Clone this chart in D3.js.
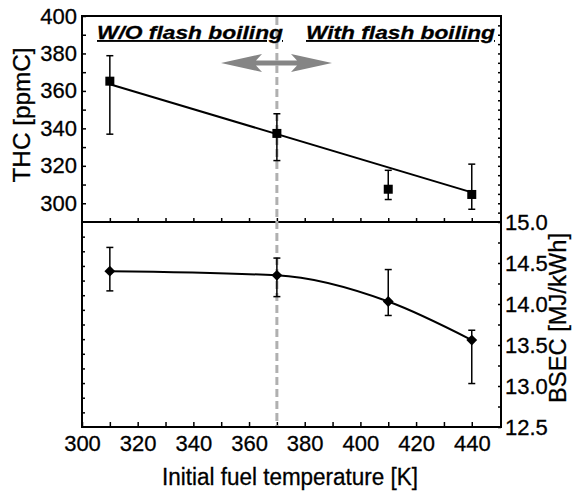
<!DOCTYPE html>
<html>
<head>
<meta charset="utf-8">
<script src="https://cdn.jsdelivr.net/npm/d3@7"></script>
<style>
  body { margin: 0; background: #fff; }
  svg text { font-family: "Liberation Sans", Arial, sans-serif; fill: #000; stroke: #000; stroke-width: 0.3px; }
</style>
</head>
<body>
<div id="chart"></div>
<script>
// temperatures [K]
const temps = [310, 370, 410, 440];
// THC [ppmC], mean and error bar limits
const thc = [365.2, 337.3, 307.5, 304.7];
const thcHi = [378.8, 347.8, 317.6, 320.9];
const thcLo = [336.9, 322.8, 302.0, 296.8];
// linear fit drawn through THC
const fitTemps = [310, 440];
const fitThc = [363.6, 305.8];
// BSEC [MJ/kWh]
const bsec = [14.40, 14.35, 14.03, 13.56];
const bsecHi = [14.69, 14.56, 14.42, 13.68];
const bsecLo = [14.16, 14.09, 13.86, 13.03];

const xTicks = [300, 320, 340, 360, 380, 400, 420, 440];
const thcTicks = [300, 320, 340, 360, 380, 400];
const bsecTicks = [12.5, 13.0, 13.5, 14.0, 14.5, 15.0];
const boundary = 370;

const W = 573, H = 491;
const left = 82, right = 501;
const top1 = 16, mid = 222, bot2 = 427;

const svg = d3.select('#chart').append('svg')
  .attr('width', W)
  .attr('height', H);

const x = d3.scaleLinear().domain([300, 450.5]).range([left, right]);
const yT = d3.scaleLinear().domain([290, 400]).range([mid, top1]);
const yB = d3.scaleLinear().domain([12.5, 15.0]).range([bot2, mid]);
const yL = d3.scaleLinear().domain([0, 14]).range([bot2, mid]);

function tidy(g) {
  g.select('.domain').remove();
  g.selectAll('.tick line').attr('stroke', '#000').attr('stroke-width', 1.5);
  g.selectAll('.tick text').style('font-size', '22px');
}

// top panel axes
svg.append('g').attr('transform', `translate(${left},0)`)
  .call(d3.axisLeft(yT).tickValues(d3.range(300, 401, 10)).tickSizeInner(-4).tickSizeOuter(0).tickPadding(5)
    .tickFormat(d => thcTicks.includes(d) ? d : ''))
  .call(tidy);
svg.append('g').attr('transform', `translate(${right},0)`)
  .call(d3.axisRight(yT).tickValues(d3.range(295, 400, 5)).tickSizeInner(-3).tickSizeOuter(0).tickFormat(''))
  .call(tidy);
svg.append('g').attr('transform', `translate(0,${mid})`)
  .call(d3.axisBottom(x).tickValues(d3.range(310, 450, 10)).tickSizeInner(-4).tickSizeOuter(0).tickFormat(''))
  .call(tidy);

// bottom panel axes
svg.append('g').attr('transform', `translate(${left},0)`)
  .call(d3.axisLeft(yL).tickValues(d3.range(1, 14)).tickSizeInner(-3).tickSizeOuter(0).tickFormat(''))
  .call(tidy);
svg.append('g').attr('transform', `translate(${right},0)`)
  .call(d3.axisRight(yB).tickValues(d3.range(12.5, 15.01, 0.25)).tickSizeInner(-3).tickSizeOuter(0).tickPadding(4)
    .tickFormat(d => bsecTicks.some(t => Math.abs(t - d) < 1e-6) ? d3.format('.1f')(d) : ''))
  .call(tidy);
svg.append('g').attr('transform', `translate(0,${bot2})`)
  .call(d3.axisBottom(x).tickValues(d3.range(300, 450, 10)).tickSizeInner(-5).tickSizeOuter(0).tickPadding(8)
    .tickFormat(d => xTicks.includes(d) ? d : ''))
  .call(tidy);

// frame
const frame = [
  [[left, top1], [right, top1]],
  [[left, top1], [left, bot2]],
  [[right, top1], [right, bot2]],
  [[left, mid], [right, mid]],
  [[left, bot2], [right, bot2]]
];
svg.append('g').selectAll('line').data(frame).join('line')
  .attr('x1', d => d[0][0]).attr('y1', d => d[0][1])
  .attr('x2', d => d[1][0]).attr('y2', d => d[1][1])
  .attr('stroke', '#000').attr('stroke-width', 2).attr('stroke-linecap', 'square');

// gray double arrow
const ay = 63, ax0 = 221, ax1 = 332, head = 41;
const arrow = [
  [ax0, ay], [ax0 + head, ay - 9], [ax0 + head - 6, ay - 2.5], [ax1 - head + 6, ay - 2.5], [ax1 - head, ay - 9],
  [ax1, ay], [ax1 - head, ay + 9], [ax1 - head + 6, ay + 2.5], [ax0 + head - 6, ay + 2.5], [ax0 + head, ay + 9]
];
svg.append('path').attr('d', d3.line()(arrow) + 'Z').attr('fill', '#858585');

// dashed boundary
svg.append('line')
  .attr('x1', x(boundary)).attr('x2', x(boundary))
  .attr('y1', top1 + 1).attr('y2', bot2 - 1)
  .attr('stroke', '#b0b0b0').attr('stroke-width', 3).attr('stroke-dasharray', '8,4');

// region labels
const lab = svg.append('g').style('font-size', '19px').style('font-weight', 'bold').style('font-style', 'italic')
  .style('text-decoration', 'underline');
lab.append('text').attr('x', 97).attr('y', 39).attr('textLength', 186).attr('lengthAdjust', 'spacingAndGlyphs')
  .text('W/O flash boiling');
lab.append('text').attr('x', 306).attr('y', 39).attr('textLength', 189).attr('lengthAdjust', 'spacingAndGlyphs')
  .text('With flash boiling');

// THC fit line
svg.append('path')
  .attr('d', d3.line().x(d => x(d[0])).y(d => yT(d[1]))(d3.zip(fitTemps, fitThc)))
  .attr('fill', 'none').attr('stroke', '#000').attr('stroke-width', 2);

// error bars
function errorBars(ys, lo, hi) {
  const g = svg.append('g').attr('stroke', '#000').attr('stroke-width', 1.5);
  temps.forEach((t, i) => {
    g.append('line').attr('x1', x(t)).attr('x2', x(t)).attr('y1', ys(lo[i])).attr('y2', ys(hi[i]));
    [lo[i], hi[i]].forEach(v => {
      g.append('line').attr('x1', x(t) - 3.5).attr('x2', x(t) + 3.5).attr('y1', ys(v)).attr('y2', ys(v));
    });
  });
}
errorBars(yT, thcLo, thcHi);
errorBars(yB, bsecLo, bsecHi);

// THC squares
svg.append('g').selectAll('rect').data(temps).join('rect')
  .attr('x', d => x(d) - 4.5).attr('y', (d, i) => yT(thc[i]) - 4.5)
  .attr('width', 9).attr('height', 9).attr('fill', '#000');

// BSEC curve and diamonds
svg.append('path')
  .attr('d', d3.line().curve(d3.curveMonotoneX).x(d => x(d[0])).y(d => yB(d[1]))(d3.zip(temps, bsec)))
  .attr('fill', 'none').attr('stroke', '#000').attr('stroke-width', 2);
svg.append('g').selectAll('path').data(temps).join('path')
  .attr('d', d3.symbol(d3.symbolDiamond2, 75))
  .attr('transform', (d, i) => `translate(${x(d)},${yB(bsec[i])})`)
  .attr('fill', '#000');

// axis titles
svg.append('text')
  .attr('transform', 'translate(30,115) rotate(-90)')
  .attr('text-anchor', 'middle').style('font-size', '24px')
  .attr('textLength', 135).attr('lengthAdjust', 'spacingAndGlyphs')
  .text('THC [ppmC]');
svg.append('text')
  .attr('transform', 'translate(566,318) rotate(-90)')
  .attr('text-anchor', 'middle').style('font-size', '23px')
  .attr('textLength', 170).attr('lengthAdjust', 'spacingAndGlyphs')
  .text('BSEC [MJ/kWh]');
svg.append('text')
  .attr('x', 290).attr('y', 485)
  .attr('text-anchor', 'middle').style('font-size', '23px')
  .attr('textLength', 256).attr('lengthAdjust', 'spacingAndGlyphs')
  .text('Initial fuel temperature [K]');
</script>
</body>
</html>
